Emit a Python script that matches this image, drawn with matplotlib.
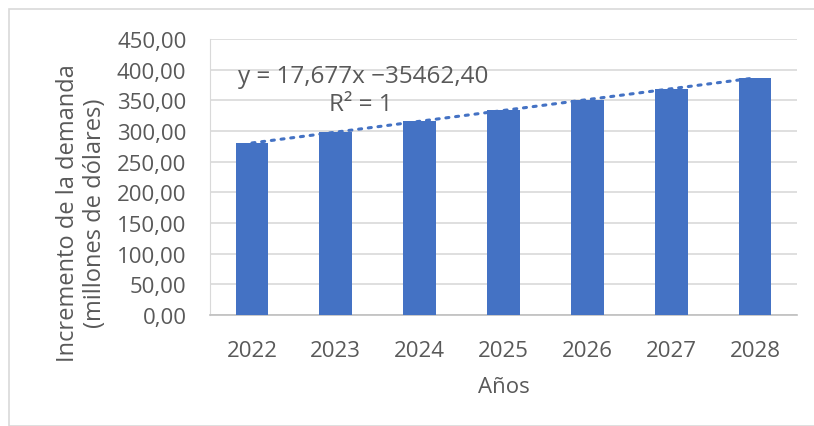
import matplotlib
matplotlib.use("Agg")
import matplotlib.pyplot as plt
from matplotlib.patches import Rectangle
import numpy as np

years = ["2022", "2023", "2024", "2025", "2026", "2027", "2028"]
values = [280.49, 298.17, 315.85, 333.53, 351.20, 368.88, 386.56]
trend_slope = 17.677
trend_intercept = -35462.40
yticks = [0, 50, 100, 150, 200, 250, 300, 350, 400, 450]

plt.rcParams['font.family'] = ['Open Sans', 'DejaVu Sans']
txt = '#595959'
grid = '#d9d9d9'
bar_c = '#4472c4'
fs = 16

fig = plt.figure(figsize=(8.14, 4.27), dpi=100)
fig.patch.set_facecolor('white')
fig.patches.append(Rectangle((9/814, 0), 1.0, 1 - 10/427, transform=fig.transFigure,
                             fill=False, edgecolor=grid, linewidth=1.2))

ax = fig.add_axes([210/814, 1 - 316/427, (797-210)/814, (316-40)/427])
x = np.arange(len(years))
ax.bar(x, values, width=0.39, color=bar_c, zorder=3)

yr = np.array([int(y) for y in years])
ax.plot(x, trend_slope * yr + trend_intercept, linestyle=(0, (1, 2.2)), color=bar_c,
        linewidth=2.2, zorder=4, dash_capstyle='round')

ax.set_xlim(-0.5, len(years) - 0.5)
ax.set_ylim(0, 450)
ax.set_yticks(yticks)
ax.set_yticklabels([f"{v:.2f}".replace('.', ',') for v in yticks])
ax.set_xticks(x)
ax.set_xticklabels(years)
ax.tick_params(axis='both', length=0, labelsize=fs, colors=txt)
ax.tick_params(axis='x', pad=18)
ax.tick_params(axis='y', pad=17)
ax.yaxis.grid(True, color=grid, linewidth=1.2, zorder=0)
ax.set_axisbelow(True)
for s in ['top', 'right']:
    ax.spines[s].set_visible(False)
ax.spines['left'].set_color(grid)
ax.spines['bottom'].set_color('#bfbfbf')
ax.spines['bottom'].set_linewidth(1.2)

ax.set_xlabel("Años", fontsize=fs, color=txt, labelpad=11)
fig.text(68/814, 1 - 213/427, "Incremento de la demanda", rotation=90,
         fontsize=fs + 1, color=txt, ha='center', va='center')
fig.text(95/814, 1 - 213/427, "(millones de dólares)", rotation=90,
         fontsize=fs + 1, color=txt, ha='center', va='center')

fig.text(363/814, 1 - 77/427, "y = 17,677x −35462,40",
         fontsize=17.5, color=txt, ha='center', va='center')
fig.text(361/814, 1 - 105/427, "R² = 1",
         fontsize=17.5, color=txt, ha='center', va='center')

fig.savefig("out.png", dpi=100, facecolor='white')
